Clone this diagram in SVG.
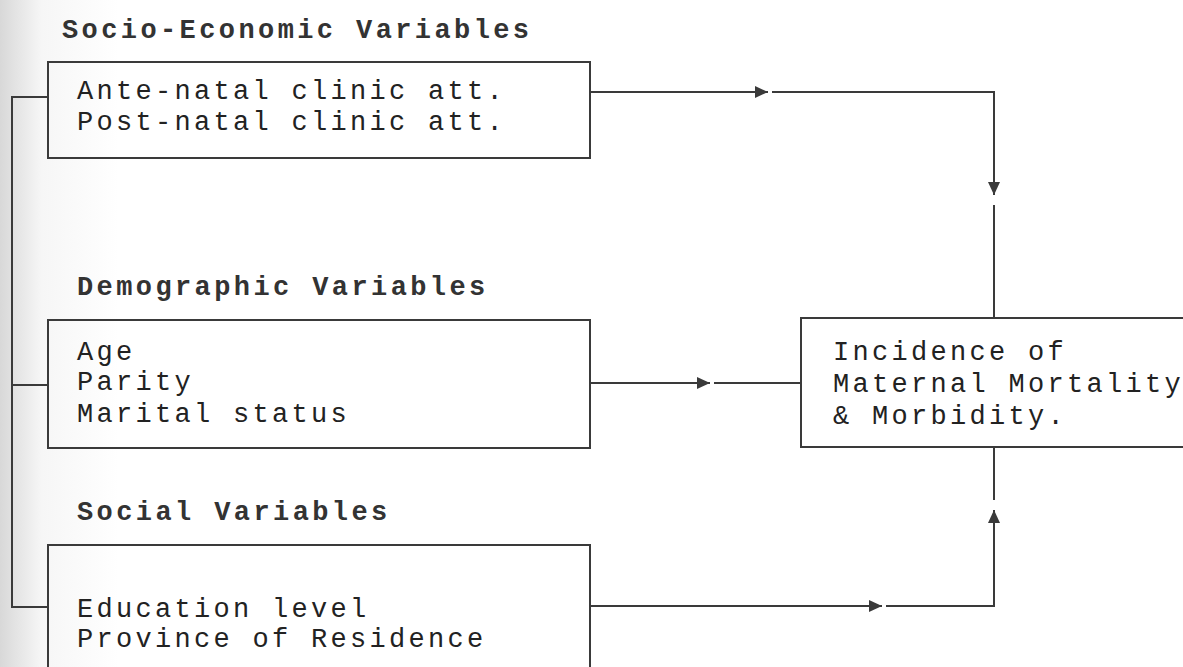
<svg xmlns="http://www.w3.org/2000/svg" width="1183" height="667" viewBox="0 0 1183 667">
<style>
.box{fill:none;stroke:#3a3a3a;stroke-width:2}
.ln{fill:none;stroke:#3a3a3a;stroke-width:2}
.t{font-family:"Courier New","Liberation Mono",monospace;font-size:27px;fill:#222222;letter-spacing:3.3px}
.h{font-family:"Courier New","Liberation Mono",monospace;font-size:27px;font-weight:bold;fill:#333333;letter-spacing:3.4px}
</style>
<defs>
<linearGradient id="shade" x1="0" y1="0" x2="1" y2="0">
<stop offset="0" stop-color="#d8d8d8"/>
<stop offset="0.035" stop-color="#f6f6f6"/>
<stop offset="0.1" stop-color="#ffffff"/>
</linearGradient>
<marker id="ah" markerUnits="userSpaceOnUse" markerWidth="14" markerHeight="12" refX="13" refY="6" orient="auto">
<path d="M0,0 L13,6 L0,12 z" fill="#3a3a3a"/>
</marker>
</defs>
<rect x="0" y="0" width="1183" height="667" fill="url(#shade)"/>
<g id="connectors">
<path class="ln" d="M48,97 H12 V607 H48"/>
<path class="ln" d="M12,385 H48"/>
<path class="ln" d="M590,92 H768" marker-end="url(#ah)"/>
<path class="ln" d="M772,92 H994 V195" marker-end="url(#ah)"/>
<path class="ln" d="M994,205 V318"/>
<path class="ln" d="M590,383 H710" marker-end="url(#ah)"/>
<path class="ln" d="M714,383 H801"/>
<path class="ln" d="M590,606 H882" marker-end="url(#ah)"/>
<path class="ln" d="M886,606 H994 V510" marker-end="url(#ah)"/>
<path class="ln" d="M994,500 V447"/>
</g>
<g id="socio-economic">
<text class="h" x="62" y="38">Socio-Economic Variables</text>
<rect class="box" x="48" y="62" width="542" height="96"/>
<text class="t" x="77" y="99">Ante-natal clinic att.</text>
<text class="t" x="77" y="130">Post-natal clinic att.</text>
</g>
<g id="demographic">
<text class="h" x="77" y="295">Demographic Variables</text>
<rect class="box" x="48" y="320" width="542" height="128"/>
<text class="t" x="77" y="360">Age</text>
<text class="t" x="77" y="390">Parity</text>
<text class="t" x="77" y="422">Marital status</text>
</g>
<g id="social">
<text class="h" x="77" y="520">Social Variables</text>
<rect class="box" x="48" y="545" width="542" height="140"/>
<text class="t" x="77" y="617">Education level</text>
<text class="t" x="77" y="647">Province of Residence</text>
</g>
<g id="outcome">
<rect class="box" x="801" y="318" width="420" height="129"/>
<text class="t" x="833" y="360">Incidence of</text>
<text class="t" x="833" y="392">Maternal Mortality</text>
<text class="t" x="833" y="424">&amp; Morbidity.</text>
</g>
</svg>
